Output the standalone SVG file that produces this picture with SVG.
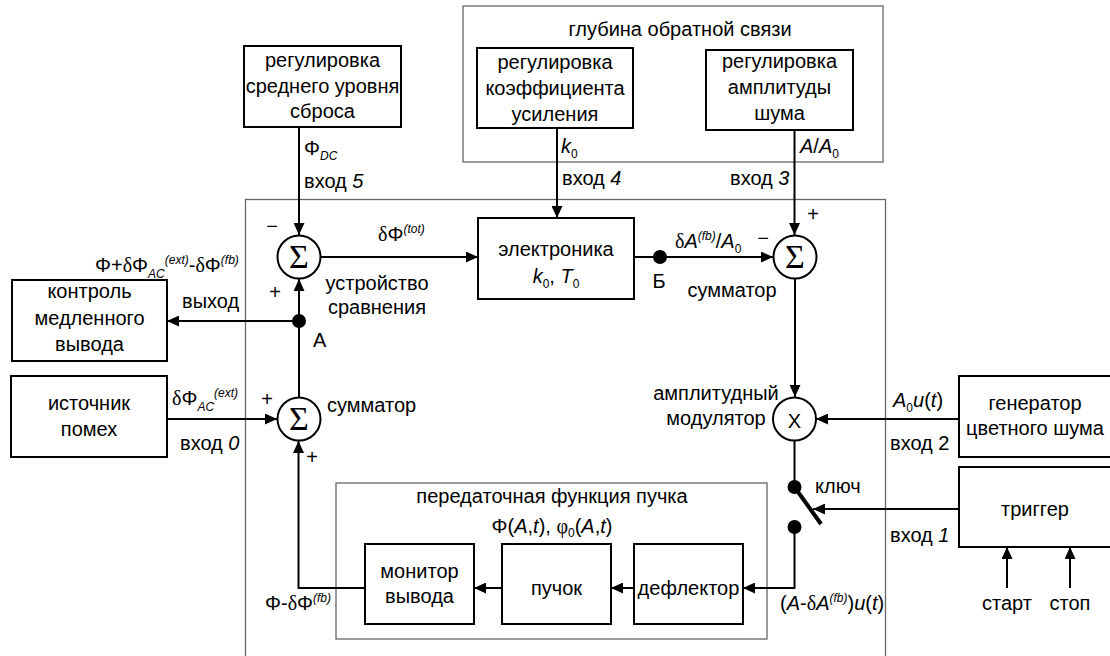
<svg xmlns="http://www.w3.org/2000/svg" width="1110" height="656" viewBox="0 0 1110 656">
<style>
text{font-family:"Liberation Sans",Arial,sans-serif;font-size:20px;fill:#000}
.c{text-anchor:middle}
.s{font-size:12px;font-style:italic}
.i{font-style:italic}
.g{font-family:"Liberation Serif","Times New Roman",serif}
.box{fill:#fff;stroke:#000;stroke-width:2}
.frame{fill:none;stroke:#666;stroke-width:1.3}
.ln{fill:none;stroke:#000;stroke-width:2}
.circ{fill:#fff;stroke:#000;stroke-width:2}
.sig{font-family:"Liberation Serif","Times New Roman",serif;font-size:34px;text-anchor:middle}
</style>
<defs>
<marker id="ar" markerUnits="userSpaceOnUse" markerWidth="12" markerHeight="11" refX="12" refY="5.5" orient="auto"><path d="M0,0 L12,5.5 L0,11 z" fill="#000"/></marker>
</defs>
<rect width="1110" height="656" fill="#fff"/>
<g id="frames">
<rect class="frame" x="245.5" y="199.5" width="640" height="480"/>
<rect class="frame" x="463" y="6" width="420" height="156"/>
<text class="c" x="680" y="36">глубина обратной связи</text>
<rect class="frame" x="336" y="483" width="431" height="156"/>
<text class="c" x="552" y="503">передаточная функция пучка</text>
<text class="c" x="552" y="533">Φ(<tspan class="i">A</tspan>,<tspan class="i">t</tspan>), <tspan class="g">φ</tspan><tspan font-size="12" dy="4">0</tspan><tspan dy="-4">(</tspan><tspan class="i">A</tspan>,<tspan class="i">t</tspan>)</text>
</g>
<g id="connectors">
<path class="ln" d="M299,127 V235" marker-end="url(#ar)"/>
<path class="ln" d="M557,128 V218" marker-end="url(#ar)"/>
<path class="ln" d="M794.5,130 V235" marker-end="url(#ar)"/>
<path class="ln" d="M320.5,257 H478" marker-end="url(#ar)"/>
<path class="ln" d="M634,257 H773" marker-end="url(#ar)"/>
<path class="ln" d="M795,278.5 V397" marker-end="url(#ar)"/>
<path class="ln" d="M959,419 H816" marker-end="url(#ar)"/>
<path class="ln" d="M794.5,440.5 V487"/>
<path class="ln" d="M959,509 H813" marker-end="url(#ar)"/>
<path class="ln" d="M794.5,527 V588 H743" marker-end="url(#ar)"/>
<path class="ln" d="M634,588 H611" marker-end="url(#ar)"/>
<path class="ln" d="M502,588 H474" marker-end="url(#ar)"/>
<path class="ln" d="M365,588 H298.5 V441" marker-end="url(#ar)"/>
<path class="ln" d="M167,419 H277" marker-end="url(#ar)"/>
<path class="ln" d="M299,397.5 V279" marker-end="url(#ar)"/>
<path class="ln" d="M299,321 H167" marker-end="url(#ar)"/>
<path class="ln" d="M1007,588 V547" marker-end="url(#ar)"/>
<path class="ln" d="M1070,588 V547" marker-end="url(#ar)"/>
<circle cx="299" cy="321" r="7" fill="#000"/>
<circle cx="660" cy="257" r="7" fill="#000"/>
</g>
<g id="labels">
<text x="304" y="155">Φ<tspan class="s" dy="5">DC</tspan></text>
<text x="304" y="188">вход <tspan class="i">5</tspan></text>
<text x="561" y="153"><tspan class="i">k</tspan><tspan font-size="12" dy="5">0</tspan></text>
<text x="562" y="185">вход <tspan class="i">4</tspan></text>
<text x="800" y="153"><tspan class="i">A</tspan>/<tspan class="i">A</tspan><tspan font-size="12" dy="5">0</tspan></text>
<text x="730" y="185">вход <tspan class="i">3</tspan></text>
<text x="272" y="233" class="c">−</text>
<text x="275" y="299" class="c">+</text>
<text x="378" y="241"><tspan class="g">δ</tspan>Φ<tspan class="s" dy="-8">(tot)</tspan></text>
<text x="377" y="290" class="c">устройство</text>
<text x="377" y="314" class="c">сравнения</text>
<text x="95" y="272">Φ+<tspan class="g">δ</tspan>Φ<tspan class="s" dy="6">AC</tspan><tspan class="s" dy="-14">(ext)</tspan><tspan dy="8">-</tspan><tspan class="g">δ</tspan>Φ<tspan class="s" dy="-8">(fb)</tspan></text>
<text x="182" y="308">выход</text>
<text x="313" y="347">А</text>
<text x="659" y="288" class="c">Б</text>
<text x="675" y="248"><tspan class="g">δ</tspan><tspan class="i">A</tspan><tspan class="s" dy="-8">(fb)</tspan><tspan dy="8">/</tspan><tspan class="i">A</tspan><tspan font-size="12" dy="5">0</tspan></text>
<text x="763" y="245" class="c">−</text>
<text x="813" y="221" class="c">+</text>
<text x="732" y="297" class="c">сумматор</text>
<text x="716" y="400" class="c">амплитудный</text>
<text x="716" y="425" class="c">модулятор</text>
<text x="893" y="407"><tspan class="i">A</tspan><tspan font-size="12" dy="5">0</tspan><tspan class="i" dy="-5">u</tspan>(<tspan class="i">t</tspan>)</text>
<text x="890" y="450">вход 2</text>
<text x="815" y="493">ключ</text>
<text x="890" y="542">вход <tspan class="i">1</tspan></text>
<text x="780" y="610">(<tspan class="i">A</tspan>-<tspan class="g">δ</tspan><tspan class="i">A</tspan><tspan class="s" dy="-8">(fb)</tspan><tspan dy="8">)</tspan><tspan class="i">u</tspan>(<tspan class="i">t</tspan>)</text>
<text x="1007" y="610" class="c">старт</text>
<text x="1070" y="610" class="c">стоп</text>
<text x="267" y="406" class="c">+</text>
<text x="312" y="464" class="c">+</text>
<text x="327" y="412">сумматор</text>
<text x="172" y="405"><tspan class="g">δ</tspan>Φ<tspan class="s" dy="6">AC</tspan><tspan class="s" dy="-14">(ext)</tspan></text>
<text x="180" y="450">вход <tspan class="i">0</tspan></text>
<text x="265" y="610">Φ-<tspan class="g">δ</tspan>Φ<tspan class="s" dy="-8">(fb)</tspan></text>
</g>
<g id="node-dc">
<rect class="box" x="244" y="46" width="157" height="81"/>
<text class="c" x="322.5" y="67">регулировка</text>
<text class="c" x="322.5" y="93">среднего уровня</text>
<text class="c" x="322.5" y="118">сброса</text>
</g>
<g id="node-gain">
<rect class="box" x="477" y="48" width="156" height="80"/>
<text class="c" x="555" y="69">регулировка</text>
<text class="c" x="555" y="95">коэффициента</text>
<text class="c" x="555" y="121">усиления</text>
</g>
<g id="node-noiseamp">
<rect class="box" x="706" y="50" width="147" height="80"/>
<text class="c" x="779.5" y="68">регулировка</text>
<text class="c" x="779.5" y="94">амплитуды</text>
<text class="c" x="779.5" y="120">шума</text>
</g>
<g id="node-electronics">
<rect class="box" x="478" y="218" width="156" height="81"/>
<text class="c" x="556" y="256">электроника</text>
<text class="c" x="556" y="283"><tspan class="i">k</tspan><tspan font-size="12" dy="5">0</tspan><tspan dy="-5">, </tspan><tspan class="i">T</tspan><tspan font-size="12" dy="5">0</tspan></text>
</g>
<g id="node-control">
<rect class="box" x="12" y="280" width="155" height="81"/>
<text class="c" x="89.5" y="298">контроль</text>
<text class="c" x="89.5" y="325">медленного</text>
<text class="c" x="89.5" y="351">вывода</text>
</g>
<g id="node-source">
<rect class="box" x="11" y="376" width="156" height="81"/>
<text class="c" x="89" y="410">источник</text>
<text class="c" x="89" y="436">помех</text>
</g>
<g id="node-generator">
<rect class="box" x="959" y="376" width="160" height="81"/>
<text class="c" x="1035" y="410">генератор</text>
<text class="c" x="1035" y="435">цветного шума</text>
</g>
<g id="node-trigger">
<rect class="box" x="959" y="467" width="160" height="80"/>
<text class="c" x="1035" y="516">триггер</text>
</g>
<g id="node-monitor">
<rect class="box" x="365" y="544" width="109" height="80"/>
<text class="c" x="419.5" y="578">монитор</text>
<text class="c" x="419.5" y="603">вывода</text>
</g>
<g id="node-beam">
<rect class="box" x="502" y="544" width="109" height="80"/>
<text class="c" x="556.5" y="595">пучок</text>
</g>
<g id="node-deflector">
<rect class="box" x="634" y="544" width="109" height="80"/>
<text class="c" x="688.5" y="595">дефлектор</text>
</g>
<g id="node-sum-compare">
<circle class="circ" cx="299" cy="257" r="21.5"/>
<text class="sig" x="299" y="268">Σ</text>
</g>
<g id="node-sum-amp">
<circle class="circ" cx="795" cy="257" r="21.5"/>
<text class="sig" x="795" y="268">Σ</text>
</g>
<g id="node-sum-noise">
<circle class="circ" cx="299" cy="419" r="21.5"/>
<text class="sig" x="299" y="430">Σ</text>
</g>
<g id="node-modulator">
<circle class="circ" cx="794.5" cy="419" r="21.5"/>
<text class="c" x="794.5" y="428" font-size="25">X</text>
</g>
<g id="node-switch">
<circle cx="794.5" cy="487" r="7" fill="#000"/>
<circle cx="794.5" cy="527" r="7" fill="#000"/>
<line x1="794.5" y1="487" x2="821" y2="524" stroke="#000" stroke-width="4"/>
</g>
</svg>
